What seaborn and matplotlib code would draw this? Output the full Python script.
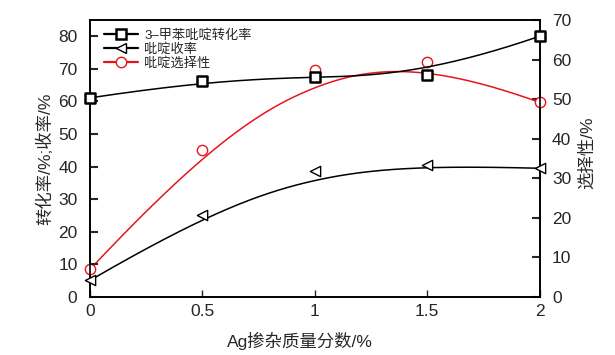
import numpy as np
import pandas as pd
import matplotlib
matplotlib.use("Agg")
import matplotlib.pyplot as plt
import seaborn as sns
from matplotlib.lines import Line2D

# ---- data ----
ag_content = [0, 0.5, 1, 1.5, 2]
conversion = [61.1, 66.3, 67.6, 68.2, 80.0]   # 3-甲苯吡啶转化率 (left axis)
yield_py = [5.1, 25.1, 38.7, 40.4, 39.5]      # 吡啶收率 (left axis)
selectivity = [7.0, 37.2, 57.4, 59.4, 49.2]   # 吡啶选择性 (right axis)
x_ticks = [0, 0.5, 1, 1.5, 2]
x_ticklabels = ["0", "0.5", "1", "1.5", "2"]
left_ticks = [0, 10, 20, 30, 40, 50, 60, 70, 80]
right_ticks = [0, 10, 20, 30, 40, 50, 60, 70]
labels = ["3–甲苯吡啶转化率", "吡啶收率", "吡啶选择性"]


def bspline(cx, cy, n=300, k=3):
    cx = np.asarray(cx, float)
    cy = np.asarray(cy, float)
    m = len(cx)
    knots = np.concatenate([[0] * k, np.linspace(0, 1, m - k + 1), [1] * k])
    t = np.linspace(0, 1, n)
    t[-1] = 1 - 1e-12
    B = np.zeros((n, len(knots) - 1))
    for i in range(len(knots) - 1):
        B[:, i] = (t >= knots[i]) & (t < knots[i + 1])
    for d in range(1, k + 1):
        Bn = np.zeros((n, len(knots) - 1 - d))
        for i in range(len(knots) - 1 - d):
            a = knots[i + d] - knots[i]
            b = knots[i + d + 1] - knots[i + 1]
            term = 0
            if a > 0:
                term = term + (t - knots[i]) / a * B[:, i]
            if b > 0:
                term = term + (knots[i + d + 1] - t) / b * B[:, i + 1]
            Bn[:, i] = term
        B = Bn
    return B @ cx, B @ cy


sns.set_style("ticks")
plt.rcParams["font.family"] = ["Liberation Sans", "Noto Sans CJK SC", "DejaVu Sans"]
plt.rcParams["axes.linewidth"] = 1.2

fig = plt.figure(figsize=(6.15, 3.55), dpi=100)
ax = fig.add_axes([90 / 615, 1 - 297 / 355, (539.5 - 90) / 615, (297 - 20) / 355])
ax2 = ax.twinx()

# curves
sx, sy = bspline(ag_content, conversion)
sns.lineplot(x=sx, y=sy, ax=ax, color="black", lw=1.1, sort=False, zorder=2)
sx, sy = bspline(ag_content, yield_py)
sns.lineplot(x=sx, y=sy, ax=ax, color="black", lw=1.1, sort=False, zorder=2)
sx, sy = bspline(ag_content, selectivity)
sns.lineplot(x=sx, y=sy, ax=ax2, color="#e8141c", lw=1.1, sort=False, zorder=2)

# markers
sns.scatterplot(x=ag_content, y=conversion, ax=ax, marker="s", s=42,
                facecolor="white", edgecolor="black", linewidth=1.8, zorder=5, clip_on=False)
sns.scatterplot(x=ag_content, y=yield_py, ax=ax, marker="<", s=55,
                facecolor="white", edgecolor="black", linewidth=1.0, zorder=5, clip_on=False)
sns.scatterplot(x=ag_content, y=selectivity, ax=ax2, marker="o", s=55,
                facecolor="white", edgecolor="#e8141c", linewidth=1.0, zorder=5, clip_on=False)

ax.set_xlim(0, 2)
ax.set_ylim(0, 85)
ax2.set_ylim(0, 70)
ax.set_xticks(x_ticks)
ax.set_xticklabels(x_ticklabels)
ax.set_yticks(left_ticks)
ax2.set_yticks(right_ticks)

for a in (ax, ax2):
    for s in a.spines.values():
        s.set_visible(True)
        s.set_linewidth(1.2)
        s.set_color("black")

ax.tick_params(axis="y", direction="in", length=6, width=1.5, pad=9, labelsize=12.5)
ax.tick_params(axis="x", direction="in", length=5, width=1.0, pad=5, labelsize=12.5)
ax2.tick_params(axis="y", direction="in", length=6, width=1.5, pad=9, labelsize=12.5)

ax.set_xlabel("Ag掺杂质量分数/%", fontsize=12.5)
ax.xaxis.set_label_coords((300 - 90) / 449.5, -(332 - 297) / 277)
ax.set_ylabel("转化率/%;收率/%", fontsize=12.5)
ax.yaxis.set_label_coords(-(90 - 53) / 449.5, 0.5)
ax2.set_ylabel("选择性/%", fontsize=12.5)
ax2.yaxis.set_label_coords(1 + (579 - 539.5) / 449.5, 0.52)

handles = [
    Line2D([], [], color="black", lw=1.6, marker="s", markersize=6.5, markerfacecolor="white",
           markeredgecolor="black", markeredgewidth=1.8),
    Line2D([], [], color="black", lw=1.6, marker="<", markersize=7.5, markerfacecolor="white",
           markeredgecolor="black", markeredgewidth=1.0),
    Line2D([], [], color="#e8141c", lw=1.6, marker="o", markersize=7.5, markerfacecolor="white",
           markeredgecolor="#e8141c", markeredgewidth=1.0),
]
leg = ax.legend(handles, labels, loc="upper left", bbox_to_anchor=(0.012, 1.0),
                frameon=False, fontsize=9.5, handlelength=2.6, handletextpad=0.45,
                labelspacing=0.12, borderaxespad=0.25)
ax.set_zorder(ax2.get_zorder() + 1)
ax.patch.set_visible(False)

fig.savefig("out.png", dpi=100)
